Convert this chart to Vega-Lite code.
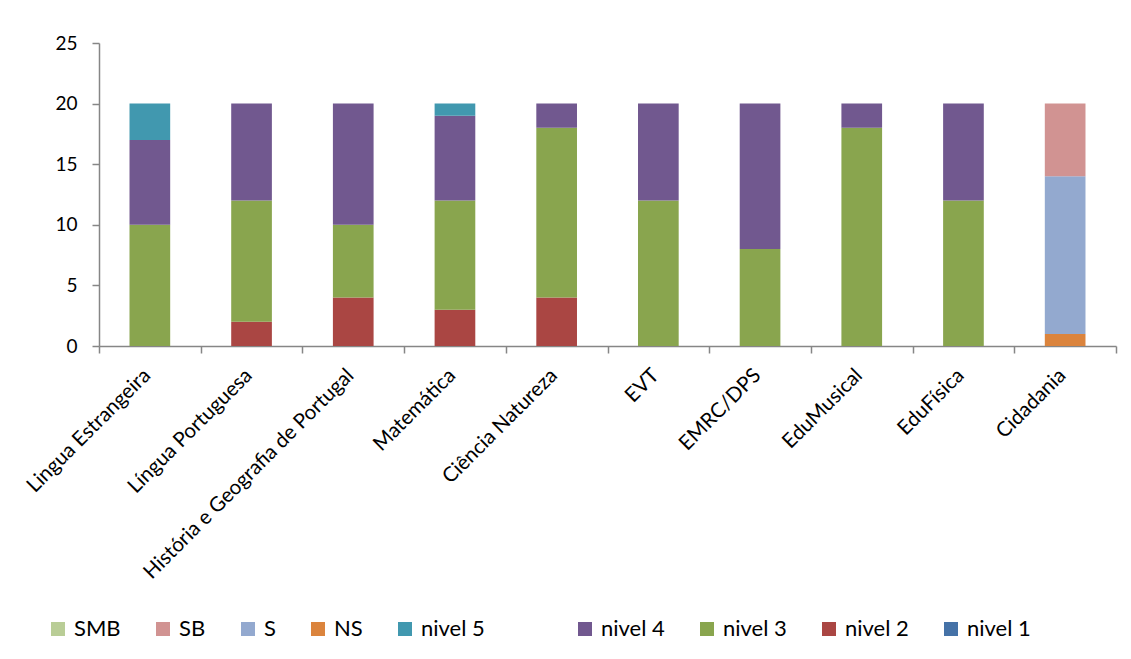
{
  "$schema": "https://vega.github.io/schema/vega-lite/v6.json",
  "autosize": "none",
  "width": 1017,
  "height": 303,
  "padding": {"left": 99, "top": 43, "right": 15, "bottom": 313},
  "background": "white",
  "config": {
    "font": "Lato",
    "view": {"stroke": null},
    "axis": {"labelFont": "Lato", "labelFontSize": 19, "labelColor": "#000000", "domainColor": "#868686", "tickColor": "#868686", "domainWidth": 1.5, "tickWidth": 1.5, "tickSize": 7, "grid": false, "title": null}
  },
  "data": {
    "values": [
      {"disciplina": "Lingua Estrangeira", "serie": "nivel 3", "valor": 10},
      {"disciplina": "Lingua Estrangeira", "serie": "nivel 4", "valor": 7},
      {"disciplina": "Lingua Estrangeira", "serie": "nivel 5", "valor": 3},
      {"disciplina": "Língua Portuguesa", "serie": "nivel 2", "valor": 2},
      {"disciplina": "Língua Portuguesa", "serie": "nivel 3", "valor": 10},
      {"disciplina": "Língua Portuguesa", "serie": "nivel 4", "valor": 8},
      {"disciplina": "História e Geografia de Portugal", "serie": "nivel 2", "valor": 4},
      {"disciplina": "História e Geografia de Portugal", "serie": "nivel 3", "valor": 6},
      {"disciplina": "História e Geografia de Portugal", "serie": "nivel 4", "valor": 10},
      {"disciplina": "Matemática", "serie": "nivel 2", "valor": 3},
      {"disciplina": "Matemática", "serie": "nivel 3", "valor": 9},
      {"disciplina": "Matemática", "serie": "nivel 4", "valor": 7},
      {"disciplina": "Matemática", "serie": "nivel 5", "valor": 1},
      {"disciplina": "Ciência Natureza", "serie": "nivel 2", "valor": 4},
      {"disciplina": "Ciência Natureza", "serie": "nivel 3", "valor": 14},
      {"disciplina": "Ciência Natureza", "serie": "nivel 4", "valor": 2},
      {"disciplina": "EVT", "serie": "nivel 3", "valor": 12},
      {"disciplina": "EVT", "serie": "nivel 4", "valor": 8},
      {"disciplina": "EMRC/DPS", "serie": "nivel 3", "valor": 8},
      {"disciplina": "EMRC/DPS", "serie": "nivel 4", "valor": 12},
      {"disciplina": "EduMusical", "serie": "nivel 3", "valor": 18},
      {"disciplina": "EduMusical", "serie": "nivel 4", "valor": 2},
      {"disciplina": "EduFísica", "serie": "nivel 3", "valor": 12},
      {"disciplina": "EduFísica", "serie": "nivel 4", "valor": 8},
      {"disciplina": "Cidadania", "serie": "NS", "valor": 1},
      {"disciplina": "Cidadania", "serie": "S", "valor": 13},
      {"disciplina": "Cidadania", "serie": "SB", "valor": 6}
    ]
  },
  "mark": {"type": "bar", "width": {"band": 0.4}},
  "encoding": {
    "x": {
      "field": "disciplina",
      "type": "nominal",
      "sort": null,
      "scale": {"paddingInner": 0, "paddingOuter": 0},
      "axis": {"labelAngle": -45, "labelAlign": "right", "labelBaseline": "middle", "labelFontSize": 20.5, "labelPadding": 19, "labelOffset": -3, "tickBand": "extent", "labelLimit": 400}
    },
    "y": {
      "field": "valor",
      "type": "quantitative",
      "stack": "zero",
      "scale": {"domain": [0, 25], "nice": false},
      "axis": {"values": [0, 5, 10, 15, 20, 25], "labelPadding": 15}
    },
    "color": {
      "field": "serie",
      "type": "nominal",
      "sort": ["nivel 1", "nivel 2", "nivel 3", "nivel 4", "nivel 5", "NS", "S", "SB", "SMB"],
      "scale": {
        "domain": ["nivel 1", "nivel 2", "nivel 3", "nivel 4", "nivel 5", "NS", "S", "SB", "SMB", " "],
        "range": ["#4572A7", "#AA4643", "#89A54E", "#71588F", "#4198AF", "#DB843D", "#93A9CF", "#D19392", "#B9CD96", "transparent"]
      },
      "legend": {
        "title": null,
        "orient": "none",
        "direction": "horizontal",
        "legendX": -52,
        "legendY": 575,
        "values": ["SMB", "SB", "S", "NS", "nivel 5", " ", "nivel 4", "nivel 3", "nivel 2", "nivel 1"],
        "symbolType": "square",
        "symbolSize": 196,
        "symbolStrokeWidth": 0,
        "symbolOpacity": 1,
        "labelFont": "Lato",
        "labelFontSize": 22,
        "labelColor": "#000000",
        "labelOffset": 5,
        "columnPadding": 31,
        "labelLimit": 300
      }
    },
    "order": {"field": "serie", "type": "nominal", "sort": "ascending"}
  }
}
